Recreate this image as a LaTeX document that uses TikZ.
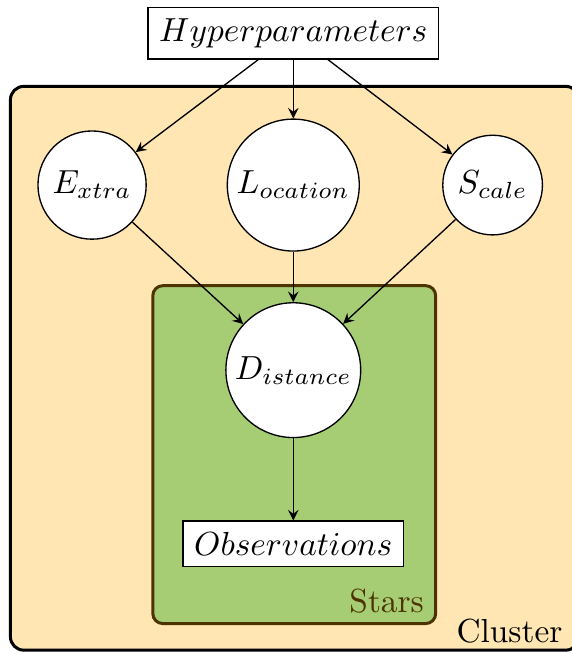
\documentclass[tikz,border=0pt]{standalone}
\usepackage{tikz}
\usetikzlibrary{arrows}

\definecolor{clusterfill}{RGB}{255,230,179}
\definecolor{starsfill}{RGB}{166,205,115}
\definecolor{starsdraw}{RGB}{77,51,0}

\begin{document}
\begin{tikzpicture}
    [
        var/.style = {draw, shape=circle, fill=white, inner sep=1pt},
        box/.style = {draw, shape=rectangle, fill=white},
        plate/.style = {line width=0.9pt, rounded corners=4pt},
    ]

    \useasboundingbox (0,0) rectangle (6.02,-6.88);

    % plates
    \filldraw[plate, fill=clusterfill, draw=black] (0.11,-0.91) rectangle (6.10,-6.85);
    \filldraw[plate, fill=starsfill, draw=starsdraw, rounded corners=3pt] (1.61,-3.01) rectangle (4.59,-6.57);

    \node[anchor=south east] (clusterlbl) at (6.05,-6.90) {Cluster};
    \node[anchor=south east, text=starsdraw] (starslbl) at (4.59,-6.58) {Stars};

    % variables
    \node[box] (hyper) at (3.09,-0.35) {$Hyperparameters$};

    \node[var, minimum size=1.14cm] (extra) at (0.97,-1.95) {$E_{xtra}$};
    \node[var, minimum size=1.39cm] (loc)   at (3.09,-1.95) {$L_{ocation}$};
    \node[var, minimum size=1.05cm] (scale) at (5.19,-1.95) {$S_{cale}$};

    \node[var, minimum size=1.42cm] (dist) at (3.09,-3.90) {$D_{istance}$};

    \node[box] (obs) at (3.09,-5.73) {$Observations$};

    \draw [-stealth] (hyper) -- (extra);
    \draw [-stealth] (hyper) -- (loc);
    \draw [-stealth] (hyper) -- (scale);

    \draw [-stealth] (extra) -- (dist);
    \draw [-stealth] (loc) -- (dist);
    \draw [-stealth] (scale) -- (dist);

    \draw [-stealth] (dist) -- (obs);
\end{tikzpicture}
\end{document}
